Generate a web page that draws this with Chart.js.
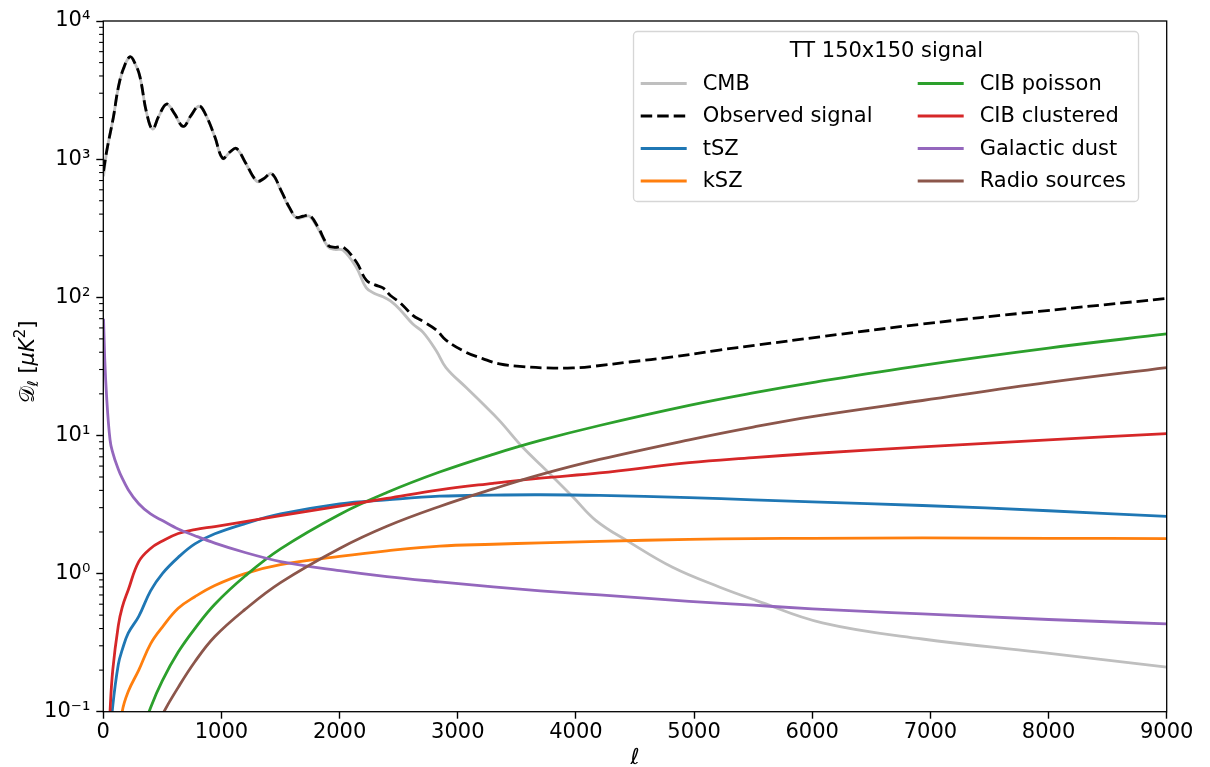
<!DOCTYPE html>
<html>
<head>
<meta charset="utf-8">
<script src="https://cdn.jsdelivr.net/npm/chart.js@4.4.1/dist/chart.umd.min.js"></script>
<style>
  html, body { margin: 0; padding: 0; background: #fff; }
  canvas { display: block; }
</style>
</head>
<body>
<canvas id="chart" width="1210" height="767"></canvas>
<script>
// multipoles for the CMB / total curves (dense where the peaks are)
const ellCmb = [2, 30, 85, 127, 170, 226, 270, 310, 367, 417,
  470, 536, 600, 676, 740, 809, 860, 944, 1010, 1070,
  1127, 1200, 1300, 1360, 1423, 1508, 1570, 1634, 1690, 1747,
  1817, 1902, 1960, 2029, 2142, 2226, 2300, 2367, 2430, 2508,
  2620, 2705, 2818, 2900, 3069, 3210, 3353, 3550, 3748, 3973,
  4170, 4452, 4818, 5213, 5523, 6086, 6932, 7918, 9000];

const cmb = [750, 1150, 2000, 3300, 4500, 5500, 4900, 3950, 2150, 1650,
  2050, 2500, 2150, 1720, 2050, 2420, 2150, 1450, 1010, 1120,
  1190, 950, 690, 720, 785, 580, 450, 375, 380, 385,
  315, 232, 222, 219, 164, 117, 106, 101, 94, 82,
  64, 56, 41, 31, 22.3, 17, 12.8, 8.2, 5.6, 3.6,
  2.42, 1.69, 1.11, 0.80, 0.64, 0.44, 0.336, 0.27, 0.21];

const observed = [820, 1160, 2005, 3305, 4505, 5505, 4905, 3955, 2155, 1655,
  2055, 2505, 2155, 1725, 2055, 2425, 2155, 1455, 1015, 1125,
  1195, 955, 695, 725, 790, 585, 455, 380, 386, 391,
  322, 238, 230, 231, 180, 133, 123, 117, 103, 92,
  74, 67, 58, 49, 40, 36, 33, 31.5, 30.8, 30.8,
  31.8, 34, 37, 41.5, 45, 52, 64, 79, 98];

// multipoles for the foreground components
const ellFg = [2, 12, 30, 57, 80, 127, 160, 211, 300, 400, 500, 634, 775, 944,
  1200, 1500, 2000, 2400, 2846, 3300, 3700, 4200, 4959, 5500, 6000, 6932, 8000, 9000];

const tsz = [null, null, null, 0.06, 0.11, 0.22, 0.28, 0.37, 0.49, 0.75, 1.0, 1.31, 1.64, 1.94,
  2.3, 2.7, 3.2, 3.42, 3.63, 3.7, 3.72, 3.68, 3.54, 3.42, 3.3, 3.11, 2.85, 2.59];
const ksz = [null, null, null, null, null, 0.05, 0.1, 0.14, 0.2, 0.31, 0.41, 0.56, 0.68, 0.82,
  1.0, 1.16, 1.33, 1.46, 1.58, 1.63, 1.67, 1.71, 1.77, 1.79, 1.8, 1.81, 1.8, 1.79];
const cibPoisson = [null, null, null, null, null, null, null, 0.03, 0.06, 0.107, 0.168, 0.27, 0.40, 0.6,
  0.96, 1.51, 2.68, 3.86, 5.43, 7.3, 9.2, 11.8, 16.5, 20.3, 24.1, 32.2, 42.9, 54.3];
const cibClustered = [null, null, 0.03, 0.1, 0.2, 0.42, 0.57, 0.76, 1.22, 1.52, 1.72, 1.95, 2.08, 2.19,
  2.38, 2.63, 3.08, 3.5, 4.04, 4.5, 4.9, 5.35, 6.35, 6.9, 7.4, 8.25, 9.3, 10.3];
const dust = [70, 36, 17.9, 9.3, 7.5, 5.7, 4.9, 4.05, 3.2, 2.7, 2.42, 2.1, 1.88, 1.66,
  1.42, 1.22, 1.05, 0.95, 0.87, 0.8, 0.75, 0.7, 0.63, 0.59, 0.555, 0.51, 0.465, 0.432];
const radio = [null, null, null, null, null, null, null, null, 0.035, 0.06, 0.095, 0.15, 0.23, 0.35,
  0.55, 0.86, 1.52, 2.2, 3.06, 4.1, 5.2, 6.7, 9.3, 11.5, 13.7, 17.9, 24.2, 31];

const yTickValues = [0.1, 1, 10, 100, 1000, 10000];
const yTickLabels = ["10⁻¹", "10⁰", "10¹", "10²", "10³", "10⁴"];
const xTickValues = [0, 1000, 2000, 3000, 4000, 5000, 6000, 7000, 8000, 9000];
const legendTitle = "TT 150x150 signal";

const FONT = "'DejaVu Sans', sans-serif";
const LW = 2.8;

const series = [
  {label: "CMB", ell: ellCmb, values: cmb, color: "#bfbfbf"},
  {label: "Observed signal", ell: ellCmb, values: observed, color: "#000000", dash: [11.5, 5]},
  {label: "tSZ", ell: ellFg, values: tsz, color: "#1f77b4"},
  {label: "kSZ", ell: ellFg, values: ksz, color: "#ff7f0e"},
  {label: "CIB poisson", ell: ellFg, values: cibPoisson, color: "#2ca02c"},
  {label: "CIB clustered", ell: ellFg, values: cibClustered, color: "#d62728"},
  {label: "Galactic dust", ell: ellFg, values: dust, color: "#9467bd", monotone: true},
  {label: "Radio sources", ell: ellFg, values: radio, color: "#8c564b"},
];

function pairs(xs, ys) {
  return xs.map((x, i) => ({x: x, y: ys[i]})).filter(p => p.y != null);
}

const datasets = series.map((s, i) => ({
  label: s.label,
  data: pairs(s.ell, s.values),
  borderColor: s.color,
  backgroundColor: s.color,
  borderWidth: LW,
  borderDash: s.dash || [],
  pointRadius: 0,
  fill: false,
  tension: 0.4,
  cubicInterpolationMode: s.monotone ? "monotone" : "default",
  clip: 0,
  order: series.length - i,
}));

const frameAndTicks = {
  id: "frameAndTicks",
  afterDatasetsDraw(chart) {
    const ctx = chart.ctx;
    const a = chart.chartArea;
    const y = chart.scales.y;
    ctx.save();
    ctx.strokeStyle = "#000";
    ctx.lineWidth = 1.3;
    ctx.strokeRect(a.left, a.top, a.right - a.left, a.bottom - a.top);
    ctx.lineWidth = 1.1;
    for (let e = -1; e < 4; e++) {
      for (let k = 2; k < 10; k++) {
        const py = y.getPixelForValue(k * Math.pow(10, e));
        ctx.beginPath();
        ctx.moveTo(a.left, py);
        ctx.lineTo(a.left - 4.2, py);
        ctx.stroke();
      }
    }
    ctx.restore();
  }
};

const titlesAndLegend = {
  id: "titlesAndLegend",
  afterDraw(chart) {
    const ctx = chart.ctx;
    const a = chart.chartArea;
    ctx.save();
    ctx.fillStyle = "#000";

    // x title
    ctx.font = "22px " + FONT;
    ctx.textAlign = "center";
    ctx.textBaseline = "alphabetic";
    ctx.fillText("ℓ", (a.left + a.right) / 2, 764);

    // y title, rotated, with sub/superscript
    const parts = [
      {t: "𝒟", f: "21px " + FONT, dy: 0},
      {t: "ℓ", f: "italic 15px " + FONT, dy: 4},
      {t: " [", f: "21px " + FONT, dy: 0},
      {t: "μK", f: "italic 21px " + FONT, dy: 0},
      {t: "2", f: "15px " + FONT, dy: -9},
      {t: "]", f: "21px " + FONT, dy: 0},
    ];
    let total = 0;
    parts.forEach(p => { ctx.font = p.f; p.w = ctx.measureText(p.t).width; total += p.w; });
    ctx.translate(34, 362);
    ctx.rotate(-Math.PI / 2);
    ctx.textAlign = "left";
    let px = -total / 2;
    parts.forEach(p => { ctx.font = p.f; ctx.fillText(p.t, px, p.dy); px += p.w; });
    ctx.setTransform(1, 0, 0, 1, 0, 0);

    // legend
    const x0 = 633.5, y0 = 31.5, w = 505, h = 170;
    ctx.beginPath();
    ctx.roundRect(x0, y0, w, h, 4);
    ctx.fillStyle = "rgba(255,255,255,0.8)";
    ctx.fill();
    ctx.strokeStyle = "rgba(204,204,204,0.8)";
    ctx.lineWidth = 1.3;
    ctx.stroke();
    ctx.fillStyle = "#000";
    ctx.font = "21px " + FONT;
    ctx.textAlign = "center";
    ctx.textBaseline = "middle";
    ctx.fillText(legendTitle, 886.5, 51.5);
    ctx.textAlign = "left";
    chart.data.datasets.forEach((ds, i) => {
      const col = Math.floor(i / 4), row = i % 4;
      const lx = col ? 917.7 : 640.7;
      const ty = 83.5 + row * 32.5;
      ctx.beginPath();
      ctx.setLineDash(ds.borderDash);
      ctx.moveTo(lx, ty);
      ctx.lineTo(lx + 46, ty);
      ctx.strokeStyle = ds.borderColor;
      ctx.lineWidth = ds.borderWidth;
      ctx.stroke();
      ctx.setLineDash([]);
      ctx.fillText(ds.label, lx + 62, ty + 1);
    });
    ctx.restore();
  }
};

new Chart(document.getElementById("chart"), {
  type: "line",
  data: { datasets: datasets },
  options: {
    responsive: false,
    animation: false,
    devicePixelRatio: 1,
    layout: { padding: { left: 0, top: 21, right: 43.3, bottom: 0 } },
    plugins: { legend: { display: false }, tooltip: { enabled: false } },
    scales: {
      x: {
        type: "linear",
        min: 0,
        max: 9000,
        afterBuildTicks: s => { s.ticks = xTickValues.map(v => ({value: v})); },
        afterFit: s => { s.height = 767 - 711.7; },
        border: { display: false },
        grid: { drawOnChartArea: false, drawTicks: true, tickLength: 7, tickColor: "#000", tickWidth: 1.4 },
        ticks: {
          color: "#000",
          font: { family: FONT, size: 21 },
          padding: 1,
          maxRotation: 0,
          callback: v => String(v),
        },
      },
      y: {
        type: "logarithmic",
        min: 0.1,
        max: 10000,
        afterBuildTicks: s => { s.ticks = yTickValues.map(v => ({value: v, major: true})); },
        afterFit: s => { s.width = 103.3; },
        border: { display: false },
        grid: { drawOnChartArea: false, drawTicks: true, tickLength: 7, tickColor: "#000", tickWidth: 1.4 },
        ticks: {
          color: "#000",
          font: { family: FONT, size: 21 },
          padding: 6,
          callback: v => yTickLabels[yTickValues.indexOf(v)],
        },
      },
    },
  },
  plugins: [frameAndTicks, titlesAndLegend],
});
</script>
</body>
</html>
